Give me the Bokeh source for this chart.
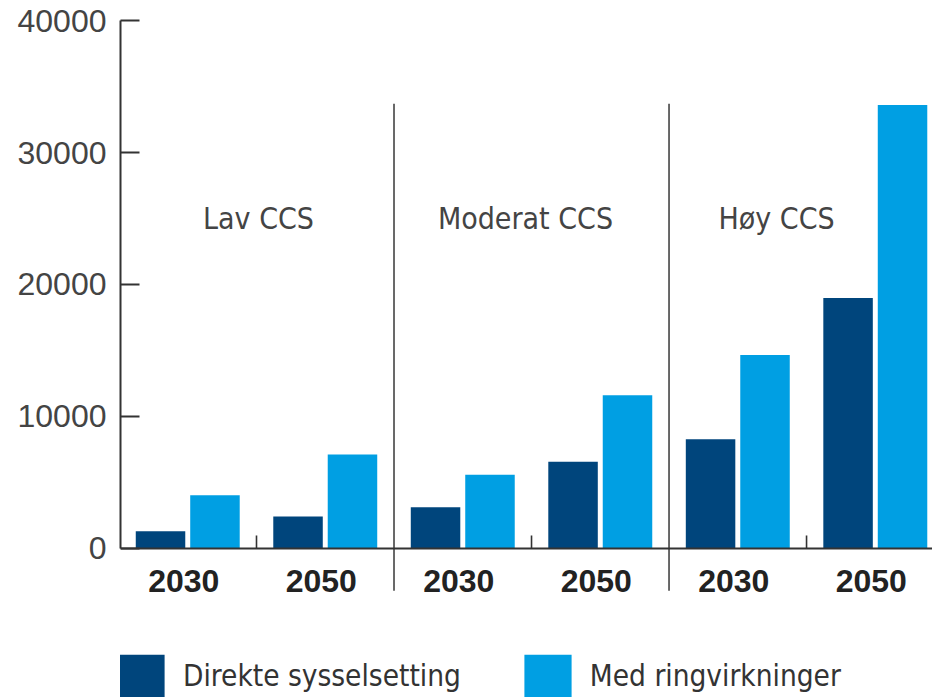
from bokeh.plotting import figure
from bokeh.models import Range1d, Span, Legend, LegendItem, FixedTicker, ColumnDataSource
from bokeh.core.properties import value
from bokeh.embed import file_html
from bokeh.resources import INLINE

# ---- data ----
groups = ["Lav CCS", "Moderat CCS", "Høy CCS"]
years = ["2030", "2050"]
direkte = [1300, 2420, 3130, 6570, 8280, 18980]          # Direkte sysselsetting
ringvirkninger = [4030, 7130, 5590, 11600, 14660, 33600]  # Med ringvirkninger
series_names = ["Direkte sysselsetting", "Med ringvirkninger"]
y_ticks = [0, 10000, 20000, 30000, 40000]

DARK = "#00457C"
LIGHT = "#009FE3"
AXIS = "#333333"
TXT = "#444444"
COND = "DejaVu Sans Condensed"

# positions through numeric scale: group index +/- year offset
pair_off = [-0.25, 0.25]
bar_off = 0.099
xs_pair, xs_dark, xs_light, year_lbl = [], [], [], []
for gi, g in enumerate(groups):
    for yi, yr in enumerate(years):
        pc = gi + pair_off[yi]
        xs_pair.append(pc)
        xs_dark.append(pc - bar_off)
        xs_light.append(pc + bar_off)
        year_lbl.append(yr)

p = figure(width=932, height=697,
           x_range=Range1d(-0.4945, 2.458), y_range=Range1d(-11289, 40455),
           x_axis_type=None, output_backend="svg", toolbar_location=None,
           min_border=0, min_border_left=120, min_border_top=14,
           min_border_bottom=0, min_border_right=0)
p.outline_line_color = None
p.ygrid.visible = False
p.background_fill_color = "white"

# y axis
ya = p.yaxis[0]
ya.ticker = FixedTicker(ticks=y_ticks)
ya.bounds = (0, 40000)
ya.major_tick_in = 19
ya.major_tick_out = 0
ya.minor_tick_line_color = None
ya.axis_line_color = AXIS
ya.axis_line_width = 2
ya.major_tick_line_color = AXIS
ya.major_tick_line_width = 2
ya.major_label_standoff = 14
ya.major_label_text_font = "Liberation Sans"
ya.major_label_text_font_size = "32px"
ya.major_label_text_color = TXT

# bars
r_dark = p.vbar(x=xs_dark, top=direkte, width=0.18, bottom=0,
                fill_color=DARK, line_color=None)
r_light = p.vbar(x=xs_light, top=ringvirkninger, width=0.18, bottom=0,
                 fill_color=LIGHT, line_color=None)

# baseline
p.add_layout(Span(location=0, dimension="width", line_color=AXIS, line_width=2))

# group separators
p.segment(x0=[0.5, 1.5], y0=[-3200, -3200], x1=[0.5, 1.5], y1=[33700, 33700],
          line_color=TXT, line_width=1.6)
# mid-group small ticks
gidx = list(range(len(groups)))
p.segment(x0=gidx, y0=[0] * 3, x1=gidx, y1=[985] * 3, line_color=AXIS, line_width=1.6)

# year labels
p.text(x=xs_pair, y=[-2500] * len(xs_pair), text=year_lbl, x_offset=-4,
       text_align="center", text_baseline="middle",
       text_font=value("Liberation Sans"), text_font_style="bold",
       text_font_size="32px", text_color="#222222")

# group labels
gsrc = ColumnDataSource(dict(x=gidx, y=[25000] * 3, t=groups, xo=[2, -6, -30]))
p.text(x="x", y="y", text="t", x_offset="xo", source=gsrc,
       text_align="center", text_baseline="middle",
       text_font=value(COND), text_font_size="30px",
       text_color=TXT)

# legend
legend = Legend(items=[LegendItem(label=series_names[0], renderers=[r_dark]),
                       LegendItem(label=series_names[1], renderers=[r_light])],
                orientation="horizontal", location=(-9, -5),
                border_line_color=None, background_fill_alpha=0,
                padding=0, margin=0, spacing=57, label_standoff=13,
                glyph_width=59, glyph_height=53,
                label_text_font=COND,
                label_text_font_size="29.5px", label_text_color="#333333",
                label_text_baseline="middle")
p.add_layout(legend, "center")

open("out.html", "w").write(file_html(p, INLINE))
